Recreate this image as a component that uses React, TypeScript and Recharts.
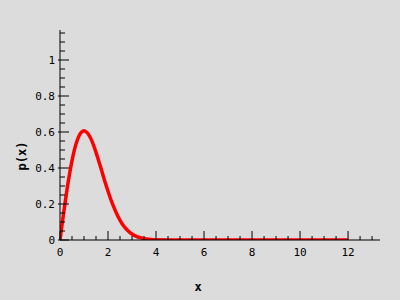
import { LineChart, Line, XAxis, YAxis } from "recharts";

const xs = [
  0, 0.1, 0.2, 0.3, 0.4, 0.5, 0.6, 0.7, 0.8, 0.9, 1.0, 1.1, 1.2, 1.3, 1.4, 1.5, 1.6, 1.7, 1.8, 1.9, 2.0,
  2.2, 2.4, 2.6, 2.8, 3.0, 3.2, 3.4, 3.6, 3.8, 4.0, 5, 6, 7, 8, 9, 10, 11, 12,
];
const px = [
  0, 0.0995, 0.196, 0.288, 0.369, 0.441, 0.501, 0.547, 0.581, 0.6, 0.607, 0.6, 0.584, 0.559, 0.526, 0.487,
  0.445, 0.401, 0.356, 0.312, 0.271, 0.196, 0.135, 0.088, 0.056, 0.033, 0.019, 0.011, 0.0055, 0.0028,
  0.0013, 0, 0, 0, 0, 0, 0, 0, 0,
];

const xTicks = [
  0, 0.5, 1, 1.5, 2, 2.5, 3, 3.5, 4, 4.5, 5, 5.5, 6, 6.5, 7, 7.5, 8, 8.5, 9, 9.5, 10, 10.5, 11, 11.5, 12,
  12.5, 13,
];
const xMajor = [0, 2, 4, 6, 8, 10, 12];
const yTicks = [
  0, 0.05, 0.1, 0.15, 0.2, 0.25, 0.3, 0.35, 0.4, 0.45, 0.5, 0.55, 0.6, 0.65, 0.7, 0.75, 0.8, 0.85, 0.9,
  0.95, 1, 1.05, 1.1, 1.15,
];
const yMajor = [0, 0.2, 0.4, 0.6, 0.8, 1];

const data = xs.map((x, i) => ({ x, p: px[i] }));

const font = "'DejaVu Sans Mono', monospace";

const isMajor = (list: number[], v: number) => list.some((m) => Math.abs(m - v) < 1e-6);

const XTick = (props: any) => {
  const { x, y, payload } = props;
  const major = isMajor(xMajor, payload.value);
  return (
    <g>
      <line x1={x} x2={x} y1={y} y2={y - (major ? 9 : 4)} stroke="#000" />
      {major && (
        <text x={x} y={y + 16} textAnchor="middle" fontFamily={font} fontSize={11} fill="#000">
          {payload.value}
        </text>
      )}
    </g>
  );
};

const YTick = (props: any) => {
  const { x, y, payload } = props;
  const major = isMajor(yMajor, payload.value);
  return (
    <g>
      <line x1={major ? x - 2 : x} x2={x + (major ? 9 : 5)} y1={y} y2={y} stroke="#000" />
      {major && (
        <text x={x - 5} y={y + 4} textAnchor="end" fontFamily={font} fontSize={11} fill="#000">
          {payload.value}
        </text>
      )}
    </g>
  );
};

const XLabel = (props: any) => {
  const { viewBox } = props;
  const cx = viewBox.x + viewBox.width / 2 - 22;
  return (
    <text x={cx} y={viewBox.y + 51} textAnchor="middle" fontFamily={font} fontSize={12} fontWeight="bold" fill="#000">
      x
    </text>
  );
};

const YLabel = (props: any) => {
  const { viewBox } = props;
  const lx = viewBox.x + 26;
  const ly = viewBox.y + viewBox.height / 2 + 21;
  return (
    <text
      x={lx}
      y={ly}
      transform={`rotate(-90, ${lx}, ${ly})`}
      textAnchor="middle"
      fontFamily={font}
      fontSize={12}
      fontWeight="bold"
      fill="#000"
    >
      p(x)
    </text>
  );
};

export default function App() {
  return (
    <div style={{ position: "absolute", left: 0, top: 0, width: 400, height: 300, background: "#dcdcdc" }}>
      <LineChart width={400} height={300} data={data} margin={{ top: 30, right: 20, left: 0, bottom: 0 }}>
        <XAxis
          dataKey="x"
          type="number"
          domain={[0, 13.33]}
          ticks={xTicks}
          interval={0}
          tickSize={0}
          tickMargin={0}
          tickLine={false}
          tick={<XTick />}
          height={60}
          stroke="#000"
          allowDataOverflow
          label={<XLabel />}
        />
        <YAxis
          type="number"
          domain={[0, 1.1667]}
          ticks={yTicks}
          interval={0}
          tickSize={0}
          tickMargin={0}
          tickLine={false}
          tick={<YTick />}
          width={60}
          stroke="#000"
          allowDataOverflow
          label={<YLabel />}
        />
        <Line
          dataKey="p"
          type="monotone"
          stroke="#ff0000"
          strokeWidth={3.5}
          dot={false}
          isAnimationActive={false}
        />
      </LineChart>
    </div>
  );
}
